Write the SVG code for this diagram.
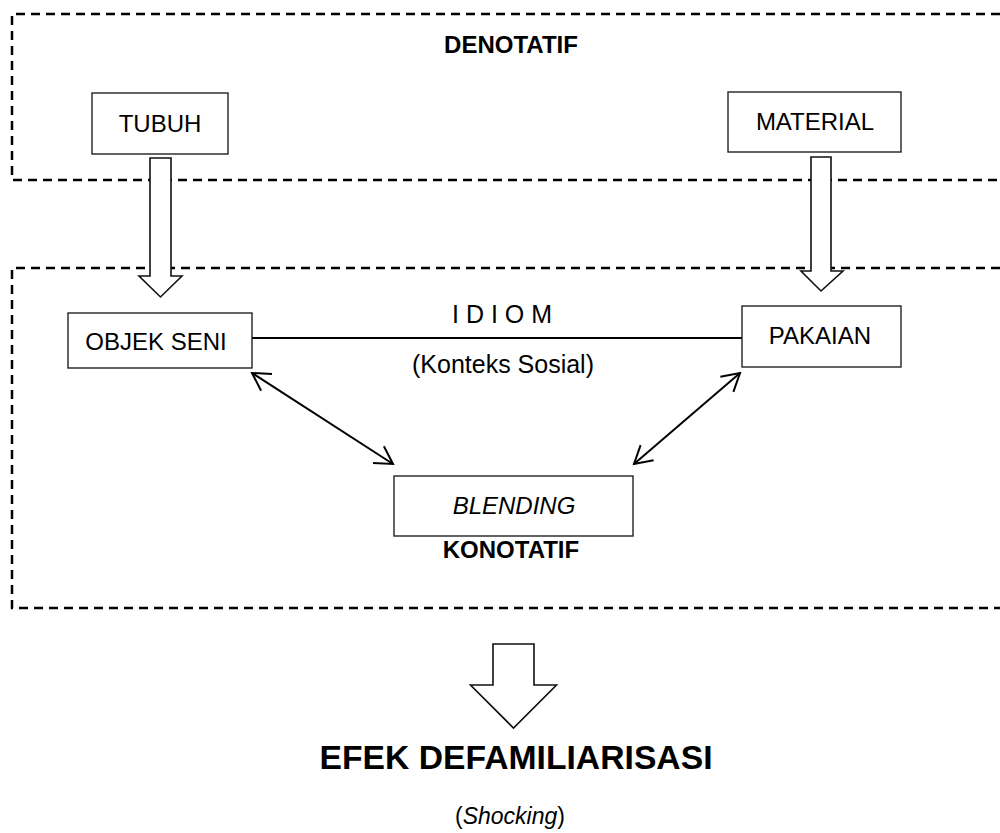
<svg xmlns="http://www.w3.org/2000/svg" width="1000" height="833" viewBox="0 0 1000 833">
  <style>
    .zone { fill: none; stroke: #000; stroke-width: 2.5; stroke-dasharray: 9 6; }
    .box { fill: #fff; stroke: #222; stroke-width: 1.4; }
    .block { fill: #fff; stroke: #111; stroke-width: 1.6; stroke-linejoin: miter; }
    .link { fill: none; stroke: #000; stroke-width: 2; }
    text { font-family: "Liberation Sans", Arial, sans-serif; fill: #000; text-anchor: middle; }
    .lbl { font-size: 24px; }
    .bold { font-weight: bold; }
  </style>
  <defs>
    <marker id="open" viewBox="-20 -12 24 24" refX="0" refY="0" markerWidth="24" markerHeight="24" markerUnits="userSpaceOnUse" orient="auto-start-reverse" overflow="visible">
      <path d="M-17.3,-10 L0,0 L-17.3,10" fill="none" stroke="#000" stroke-width="2"/>
    </marker>
  </defs>
  <rect width="1000" height="833" fill="#fff"/>

  <g id="zones">
    <path class="zone" d="M1000,14 H12 V180 H1000"/>
    <path class="zone" d="M1000,268 H12 V608 H1000"/>
    <text class="lbl bold" x="511" y="53">DENOTATIF</text>
    <text class="lbl bold" x="511" y="558">KONOTATIF</text>
  </g>

  <g id="connectors">
    <polygon class="block" points="150,158 171,158 171,276 182,276 160.5,297 139,276 150,276"/>
    <polygon class="block" points="811,157 831,157 831,271 843,271 821,291 801,271 811,271"/>
    <line class="link" x1="252" y1="338" x2="742" y2="338"/>
    <line class="link" x1="252" y1="373" x2="393" y2="464" marker-start="url(#open)" marker-end="url(#open)"/>
    <line class="link" x1="740" y1="373" x2="634" y2="464" marker-start="url(#open)" marker-end="url(#open)"/>
    <polygon class="block" points="493,644 534,644 534,685 556.5,685 513.5,728 470.5,685 493,685"/>
    <text style="font-size:25px" x="502" y="323">I D I O M</text>
    <text style="font-size:25px" x="503" y="373">(Konteks Sosial)</text>
  </g>

  <g id="tubuh">
    <rect class="box" x="92" y="93" width="136" height="61"/>
    <text class="lbl" x="160" y="132">TUBUH</text>
  </g>
  <g id="material">
    <rect class="box" x="728" y="92" width="173" height="60"/>
    <text class="lbl" x="815" y="130">MATERIAL</text>
  </g>
  <g id="objek-seni">
    <rect class="box" x="68" y="313" width="184" height="55"/>
    <text class="lbl" x="156" y="350">OBJEK SENI</text>
  </g>
  <g id="pakaian">
    <rect class="box" x="742" y="306" width="159" height="61"/>
    <text class="lbl" x="820" y="344">PAKAIAN</text>
  </g>
  <g id="blending">
    <rect class="box" x="394" y="476" width="239" height="60"/>
    <text class="lbl" x="514" y="514" font-style="italic">BLENDING</text>
  </g>
  <g id="efek">
    <text class="bold" x="516" y="769" style="font-size:34px" textLength="393" lengthAdjust="spacingAndGlyphs">EFEK  DEFAMILIARISASI</text>
    <text style="font-size:23px" x="510" y="824">(<tspan font-style="italic">Shocking</tspan>)</text>
  </g>
</svg>
